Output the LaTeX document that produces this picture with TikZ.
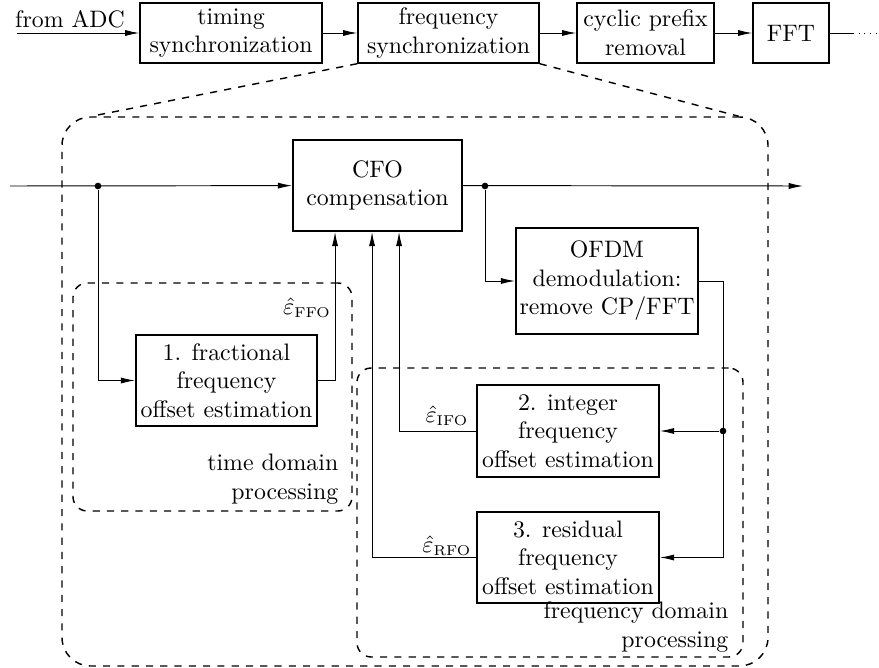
\documentclass[tikz,border=0pt]{standalone}
\usepackage{amssymb}
\usepackage{amsmath}
\usepackage{tikz}
\usetikzlibrary{arrows.meta,calc,positioning}
\def\pxu{0.42pt}
\newcommand{\subtag}[1]{\mbox{\fontsize{6}{7}\selectfont #1}}

\begin{document}
\begin{tikzpicture}[x=0.42pt, y=-0.42pt, >={Latex[length=6pt,width=2.6pt]}, block/.style={draw, thick, align=center, inner sep=1pt}, area/.style={draw, semithick, dashed, rounded corners=6pt}, dot/.style={circle, fill, inner sep=0pt, minimum size=2.8pt}]
\useasboundingbox (0,0) rectangle (879,668);
% dashed areas
\node[area, rounded corners=12pt, minimum width=706*\pxu, minimum height=549*\pxu] (fsync) at (415,391.5) {};
\node[area, minimum width=279*\pxu, minimum height=228*\pxu] (tdp) at (212.5,397) {};
\node[area, minimum width=386*\pxu, minimum height=289*\pxu] (fdp) at (550,512.5) {};
% top chain
\node[block, semithick, minimum width=182*\pxu, minimum height=60*\pxu] (timing) at (231,33) {timing\\synchronization};
\node[block, semithick, minimum width=181*\pxu, minimum height=60*\pxu] (freq) at (448.5,33) {frequency\\synchronization};
\node[block, semithick, minimum width=137*\pxu, minimum height=60*\pxu] (cp) at (645.5,33) {cyclic prefix\\removal};
\node[block, semithick, minimum width=76*\pxu, minimum height=60*\pxu] (fft) at (791,33) {FFT};
\coordinate (adc) at (17,33);
\coordinate (cont) at (853,33);
\coordinate (contend) at (879,33);
\node[anchor=south, inner sep=2pt] (adctext) at (70,33) {from ADC};
\draw[->] (adc) -- (timing);
\draw[->] (timing) -- (freq);
\draw[->] (freq) -- (cp);
\draw[->] (cp) -- (fft);
\draw (fft) -- (cont);
\draw[dotted] (cont) -- (contend);
\draw[semithick, dashed] (freq.south west) -- ($(fsync.north west)+(30,0)$);
\draw[semithick, dashed] (freq.south east) -- ($(fsync.north east)+(-30,0)$);
% blocks
\node[block, minimum width=169*\pxu, minimum height=91*\pxu] (cfo) at (377.5,185.5) {CFO\\compensation};
\node[block, minimum width=182*\pxu, minimum height=106*\pxu] (ofdm) at (607,281) {OFDM\\demodulation:\\remove CP/FFT};
\node[block, minimum width=181*\pxu, minimum height=91*\pxu] (ffo) at (226.5,380.5) {1. fractional\\frequency\\offset estimation};
\node[block, minimum width=182*\pxu, minimum height=92*\pxu] (ifo) at (568,431) {2. integer\\frequency\\offset estimation};
\node[block, minimum width=182*\pxu, minimum height=91*\pxu] (rfo) at (568,557.5) {3. residual\\frequency\\offset estimation};
\node (effo) at (307,308) {$\hat{\varepsilon}_{\subtag{FFO}}$};
\node (eifo) at (447,416) {$\hat{\varepsilon}_{\subtag{IFO}}$};
\node (erfo) at (447,546) {$\hat{\varepsilon}_{\subtag{RFO}}$};
\node[anchor=south east, align=right, inner sep=0pt] (tdptext) at ($(tdp.south east)+(-14,-7)$) {time domain\\processing};
\node[anchor=south east, align=right, inner sep=0pt] (fdptext) at ($(fdp.south east)+(-15,-5)$) {frequency domain\\processing};
% signal path
\coordinate (in) at (10,186);
\coordinate (out) at (803,186);
\node[dot] (split1) at (98,186) {};
\node[dot] (split2) at (485,186) {};
\node[dot] (split3) at (723,431) {};
\draw[->] (in) -- (cfo);
\draw[->] (cfo) -- (out);
\draw[->] (split1) |- (ffo);
\draw[->] (split2) |- (ofdm);
\draw[->] (ffo) -| ($(cfo.south west)+(43,0)$);
\draw[->] (rfo) -| ($(cfo.south west)+(80,0)$);
\draw[->] (ifo) -| ($(cfo.south west)+(107,0)$);
\draw[->] (ofdm) -| (split3 |- rfo.east) -- (rfo);
\draw[->] (split3) -- (ifo);
\end{tikzpicture}
\end{document}
